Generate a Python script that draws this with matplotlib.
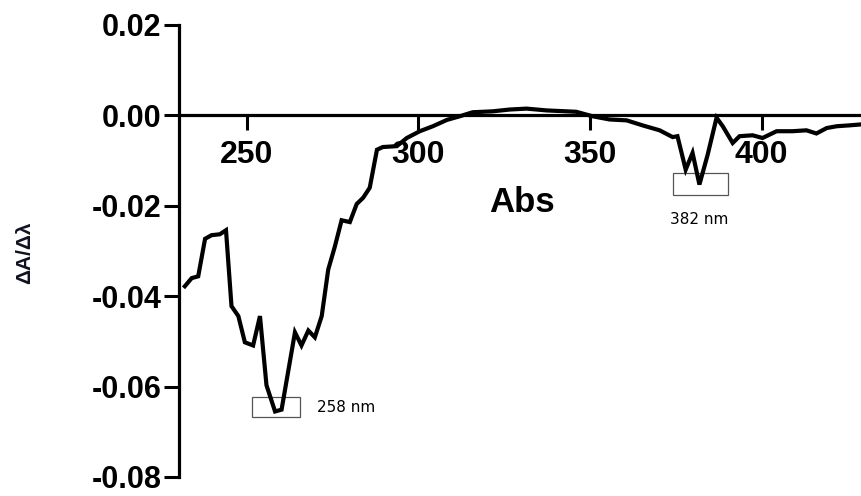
import matplotlib
matplotlib.use("Agg")
import matplotlib.pyplot as plt
from matplotlib.patches import Rectangle

plt.rcParams['axes.unicode_minus'] = False
plt.rcParams['font.family'] = ['Liberation Sans', 'DejaVu Sans']

wavelength = [231.9, 233.9, 235.8, 237.8, 239.7, 242.1, 243.9, 245.5, 247.5, 249.4,
              251.8, 253.8, 255.7, 258.2, 260.1, 264.0, 265.9, 267.9, 269.8, 271.8,
              273.7, 275.6, 277.6, 280.0, 282.0, 283.9, 285.8, 287.9, 289.6, 293.7,
              296.6, 300.4, 304.2, 308.3, 312.0, 315.8, 321.6, 326.6, 331.5, 337.4,
              343.2, 346.0, 350.8, 355.7, 360.7, 365.3, 370.3, 374.1, 375.5, 377.9,
              379.9, 381.9, 384.3, 386.9, 388.7, 391.6, 393.6, 397.4, 400.3, 404.4,
              409.0, 413.1, 416.0, 419.0, 421.9, 425.7, 428.9]
dA_dl = [-0.0378, -0.0360, -0.0356, -0.0273, -0.0265, -0.0263, -0.0254, -0.0422, -0.0444, -0.0502,
         -0.0509, -0.0444, -0.0597, -0.0655, -0.0651, -0.0480, -0.0509, -0.0476, -0.0491, -0.0444,
         -0.0341, -0.0291, -0.0232, -0.0236, -0.0196, -0.0182, -0.0160, -0.0076, -0.0070, -0.0068,
         -0.0050, -0.0035, -0.0024, -0.0010, -0.0002, 0.0007, 0.0009, 0.0013, 0.0015, 0.0011,
         0.0009, 0.0008, -0.0002, -0.0009, -0.0011, -0.0022, -0.0033, -0.0048, -0.0046, -0.0120,
         -0.0083, -0.0153, -0.0087, -0.0005, -0.0024, -0.0061, -0.0046, -0.0044, -0.0050, -0.0035,
         -0.0035, -0.0033, -0.0040, -0.0028, -0.0024, -0.0022, -0.0020]

x_ticks = [250, 300, 350, 400]
y_ticks = [0.02, 0.00, -0.02, -0.04, -0.06, -0.08]
y_tick_labels = ["0.02", "0.00", "-0.02", "-0.04", "-0.06", "-0.08"]

peak_labels = ["258 nm", "382 nm"]
peak_boxes = [(251.5, -0.0668, 13.9, 0.0046), (374.1, -0.0177, 16.0, 0.0050)]

fig = plt.figure(figsize=(8.61, 4.96), dpi=100)
ax = fig.add_axes([179/861, 19/496, 1 - 179/861, 452/496])

ax.plot(wavelength, dA_dl, color='black', lw=3.0, solid_joinstyle='miter', zorder=3)

ax.set_xlim(230.2, 429)
ax.set_ylim(-0.08, 0.02)

for s in ['top', 'right']:
    ax.spines[s].set_visible(False)
ax.spines['bottom'].set_position(('data', 0))
ax.spines['left'].set_linewidth(2.3)
ax.spines['bottom'].set_linewidth(2.3)

ax.set_xticks(x_ticks)
ax.set_xticklabels([str(t) for t in x_ticks], fontsize=23, fontweight='bold')
ax.set_yticks(y_ticks)
ax.set_yticklabels(y_tick_labels, fontsize=22, fontweight='bold')
ax.tick_params(axis='x', direction='out', length=11, width=2.2, pad=7)
ax.tick_params(axis='y', direction='out', length=11, width=2.2, pad=1.5)

# peak boxes and labels
for (x0, y0, w, h) in peak_boxes:
    ax.add_patch(Rectangle((x0, y0), w, h, fill=False, edgecolor='#555555', lw=0.9, zorder=2))
ax.text(270.4, -0.0647, peak_labels[0], fontsize=11, family='DejaVu Sans',
        ha='left', va='center', color='black')
ax.text(381.9, -0.0231, peak_labels[1], fontsize=11, family='DejaVu Sans',
        ha='center', va='center', color='black')

ax.text(522/861, 1 - 203/496, "Abs", transform=fig.transFigure, fontsize=25,
        fontweight='bold', ha='center', va='center')

fig.text(25/861, 1 - 253/496, "ΔA/Δλ", rotation=90, fontsize=15, fontweight='bold',
         ha='center', va='center', color='#111122')

fig.savefig("out.png", dpi=100)
